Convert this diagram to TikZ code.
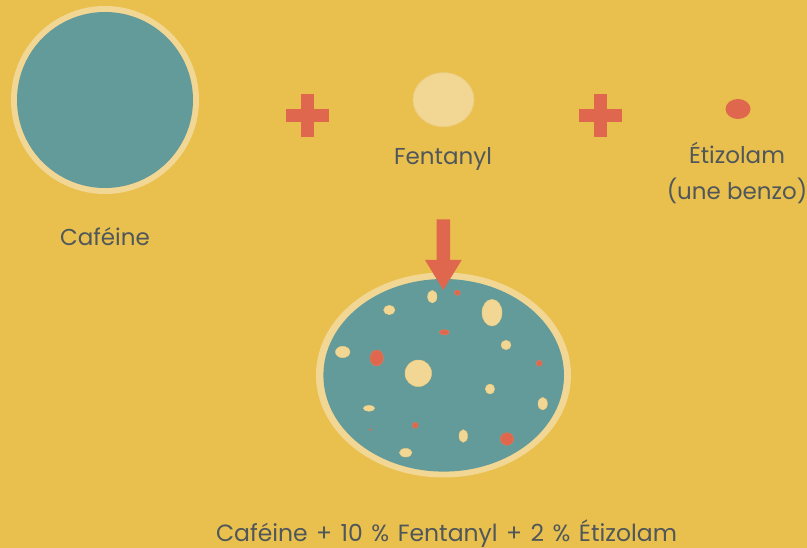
\documentclass[tikz,border=0pt]{standalone}
\usepackage{fontspec}
\setmainfont{Poppins}
\newfontfamily\widesp[WordSpace=1.35]{Poppins}
\definecolor{bg}{RGB}{233,192,78}
\definecolor{teal}{RGB}{99,154,154}
\definecolor{beige}{RGB}{241,214,148}
\definecolor{beigeline}{RGB}{236,205,128}
\definecolor{redc}{RGB}{222,103,77}
\definecolor{txt}{RGB}{80,87,90}
\tikzset{
  lbl/.style={text=txt, font=\fontsize{23}{27}\selectfont, inner sep=0pt, align=center, anchor=base},
  bspot/.style={fill=beige, draw=beigeline, line width=0.4pt},
  rspot/.style={fill=redc, draw=redc!80!beige, line width=0.4pt},
  plusc/.style={fill=redc}
}
\begin{document}
\begin{tikzpicture}[x=1pt,y=-1pt]
\fill[bg] (0,0) rectangle (807,548);
\useasboundingbox (0,0) rectangle (807,548);
% Caféine
\fill[beige] (105,100) circle (94);
\fill[teal] (105,100) circle (88);
\node[lbl] (caflbl) at (105,246) {Caféine};
% plus signs
\fill[plusc] (300.8,94) rectangle (314.2,137);
\fill[plusc] (286,108.8) rectangle (329,122.2);
\fill[plusc] (593.8,94) rectangle (607.2,137);
\fill[plusc] (579,108.8) rectangle (622,122.2);
% Fentanyl
\draw[fill=beige, draw=beigeline, line width=0.8pt] (443.5,99.7) ellipse (30.5 and 27);
\node[lbl] (fenlbl) at (443,165) {Fentanyl};
% Etizolam
\fill[redc] (738,109) ellipse (12.5 and 10);
\node[lbl] (etilbl) at (737,164) {Étizolam};
\node[lbl] (benzo) at (737,200) {(une benzo)};
% mixture
\fill[beige] (443.5,375) ellipse (127.5 and 102.5);
\fill[teal] (443.7,375.3) ellipse (120.3 and 96.3);
% beige spots
\draw[bspot] (432.3,296.7) ellipse (4.7 and 6.3);
\draw[bspot] (389.3,310) ellipse (5.7 and 4.7);
\draw[bspot] (492,312.7) ellipse (10 and 13.3);
\draw[bspot] (342.7,352) ellipse (7.3 and 5.7);
\draw[bspot] (506,345) ellipse (5 and 4.7);
\draw[bspot] (418.3,373.3) circle (13.3);
\draw[bspot] (490,389) ellipse (4.7 and 5);
\draw[bspot] (542.7,403.7) ellipse (4.7 and 6.3);
\draw[bspot] (369,408.3) ellipse (5.7 and 3);
\draw[bspot] (463.3,436) ellipse (4.3 and 6.3);
\draw[bspot] (405.7,452.7) ellipse (6.3 and 4.3);
% red spots
\draw[rspot] (457.3,292.7) ellipse (3 and 2.7);
\draw[rspot] (444.3,332.3) ellipse (5 and 2.7);
\draw[rspot] (376.7,358) ellipse (6.7 and 8);
\draw[rspot] (539.3,363.3) circle (3);
\draw[rspot] (415.3,425.3) circle (3);
\fill[redc] (370.3,429.7) circle (1.3);
\draw[rspot] (507,439) ellipse (6.7 and 6.3);
% arrow
\fill[redc] (436.7,219.3) -- (450,219.3) -- (450,260) -- (461.7,260) -- (443.3,290) -- (425,260) -- (436.7,260) -- cycle;
\node[lbl, font=\widesp\fontsize{23.5}{27}\selectfont] (mixlbl) at (446.5,541) {Caféine + 10 \% Fentanyl + 2 \% Étizolam};
\end{tikzpicture}
\end{document}
